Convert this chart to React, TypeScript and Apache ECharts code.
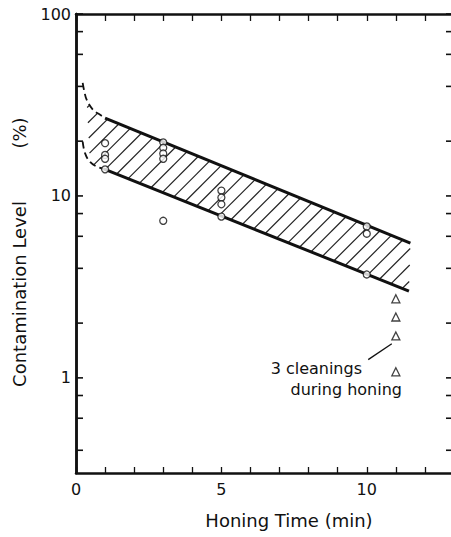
import React, { useEffect, useRef } from "react";
import * as echarts from "echarts";

// ---- data ----
const xTickLabels = [0, 5, 10];
const yTickLabels = [1, 10, 100];
const yTickValues = [0.4, 0.6, 0.8, 1, 2, 4, 6, 8, 10, 20, 40, 60, 80, 100];

const circleTimes = [1, 1, 1, 1, 3, 3, 3, 3, 3, 5, 5, 5, 5, 10, 10, 10];
const circleLevels = [19.5, 16.8, 16.0, 14.0, 19.7, 18.4, 17.1, 16.0, 7.3, 10.7, 9.8, 9.0, 7.7, 6.8, 6.2, 3.7];

const triangleTimes = [11, 11, 11, 11];
const triangleLevels = [2.72, 2.16, 1.7, 1.08];

const upperLineX = [1.0, 11.5];
const upperLineY = [26.8, 5.5];
const lowerLineX = [0.95, 11.45];
const lowerLineY = [14.1, 3.0];

const upperDashX = [0.23, 0.29, 0.37, 0.59, 0.83, 1.0];
const upperDashY = [41.8, 37.3, 33.7, 29.7, 27.9, 26.8];
const lowerDashX = [0.23, 0.31, 0.48, 0.71, 0.95];
const lowerDashY = [19.9, 17.2, 15.4, 14.5, 14.1];

const leaderX = [10.05, 10.86];
const leaderY = [1.26, 1.54];

const annotationLines = ["3 cleanings", "during honing"];

const zip = (xs: number[], ys: number[]) => xs.map((x, i) => [x, ys[i]]);

const HATCH_ANGLE = 45;
const HATCH_GAP = 16;
const FONT = "DejaVu Sans";
const INK = "#111";

export default function App() {
  const ref = useRef<HTMLDivElement>(null);

  useEffect(() => {
    if (!ref.current) return;
    const chart = echarts.init(ref.current, null, { renderer: "svg" });

    const upperDash = zip(upperDashX, upperDashY);
    const lowerDash = zip(lowerDashX, lowerDashY);
    const upperLine = zip(upperLineX, upperLineY);
    const lowerLine = zip(lowerLineX, lowerLineY);

    const hatchPolygon = [
      ...upperDash.filter((p) => p[0] >= 0.37),
      upperLine[upperLine.length - 1],
      lowerLine[lowerLine.length - 1],
      ...lowerDash.filter((p) => p[0] >= 0.48).reverse(),
    ];

    const hatchRender = (_params: any, api: any) => {
      const poly = hatchPolygon.map((p) => api.coord(p));
      const th = (HATCH_ANGLE * Math.PI) / 180;
      const dx = Math.cos(th), dy = -Math.sin(th);
      const nx = Math.sin(th), ny = Math.cos(th);
      const ks = poly.map((p: number[]) => nx * p[0] + ny * p[1]);
      const kmin = Math.min(...ks), kmax = Math.max(...ks);
      const step = HATCH_GAP * Math.sin(th);
      const children: any[] = [];
      for (let k = kmin + step * 0.5; k < kmax; k += step) {
        const hits: number[][] = [];
        for (let i = 0; i < poly.length; i++) {
          const a = poly[i], b = poly[(i + 1) % poly.length];
          const va = nx * a[0] + ny * a[1] - k;
          const vb = nx * b[0] + ny * b[1] - k;
          if (va < 0 !== vb < 0) {
            const t = va / (va - vb);
            const px = a[0] + t * (b[0] - a[0]);
            const py = a[1] + t * (b[1] - a[1]);
            hits.push([px, py, dx * px + dy * py]);
          }
        }
        hits.sort((p, q) => p[2] - q[2]);
        for (let j = 0; j + 1 < hits.length; j += 2) {
          children.push({
            type: "line",
            shape: { x1: hits[j][0], y1: hits[j][1], x2: hits[j + 1][0], y2: hits[j + 1][1] },
            style: { stroke: "#222", lineWidth: 1.2 },
          });
        }
      }
      return { type: "group", children };
    };

    const tickRender = (_params: any, api: any) => {
      const v = api.value(1);
      const pL = api.coord([0, v]);
      const pR = api.coord([13, v]);
      return {
        type: "group",
        children: [
          { type: "line", shape: { x1: pL[0], y1: pL[1], x2: pL[0] + 7, y2: pL[1] }, style: { stroke: INK, lineWidth: 1.6 } },
          { type: "line", shape: { x1: pR[0] - 8, y1: pR[1], x2: pR[0], y2: pR[1] }, style: { stroke: INK, lineWidth: 1.6 } },
        ],
      };
    };

    const isIn = (list: number[], v: number) => list.some((l) => Math.abs(l - v) < 1e-6 * Math.max(1, l));

    const axisLineStyle = { color: INK, width: 2.5 };

    chart.setOption({
      animation: false,
      backgroundColor: "#ffffff",
      grid: { left: 76, top: 14, width: 378, height: 459, outerBoundsMode: "none", containLabel: false },
      xAxis: [
        {
          type: "value", min: 0, max: 13, interval: 1, position: "bottom",
          axisLine: { lineStyle: axisLineStyle },
          axisTick: { inside: true, length: 6, lineStyle: { color: INK, width: 1.3 } },
          axisLabel: {
            formatter: (v: number) => (isIn(xTickLabels, v) ? String(v) : ""),
            fontSize: 16, fontFamily: FONT, color: INK, margin: 8,
          },
          splitLine: { show: false },
        },
        {
          type: "value", min: 0, max: 13, interval: 1, position: "top",
          axisLine: { lineStyle: axisLineStyle },
          axisTick: { inside: true, length: 7, lineStyle: { color: INK, width: 1.3 } },
          axisLabel: { show: false },
          splitLine: { show: false },
        },
      ],
      yAxis: [
        {
          type: "log", logBase: 10, min: 0.3, max: 100, position: "left",
          axisLine: { show: true, lineStyle: axisLineStyle },
          axisTick: { show: false },
          axisLabel: {
            formatter: (v: number) => (isIn(yTickLabels, v) ? String(Math.round(v)) : ""),
            fontSize: 16, fontFamily: FONT, color: INK, margin: 5,
          },
          splitLine: { show: false },
          minorTick: { show: false },
        },
        {
          type: "log", logBase: 10, min: 0.3, max: 100, position: "right",
          axisLine: { show: true, lineStyle: axisLineStyle },
          axisTick: { show: false },
          axisLabel: { show: false },
          splitLine: { show: false },
        },
      ],
      series: [
        {
          type: "custom", name: "hatch", renderItem: hatchRender, data: [[0, 1]],
          encode: { x: 0, y: 1 }, silent: true, z: 1,
        },
        {
          type: "custom", name: "yticks", renderItem: tickRender,
          data: yTickValues.map((v) => [0, v]), encode: { x: 0, y: 1 }, silent: true, z: 5,
        },
        {
          type: "line", name: "upper", data: upperLine, showSymbol: false,
          lineStyle: { color: INK, width: 3 }, z: 2,
        },
        {
          type: "line", name: "lower", data: lowerLine, showSymbol: false,
          lineStyle: { color: INK, width: 3 }, z: 2,
        },
        {
          type: "line", name: "upperDash", data: upperDash, showSymbol: false, smooth: 0.4,
          lineStyle: { color: INK, width: 1.8, type: [7, 4] }, z: 2,
        },
        {
          type: "line", name: "lowerDash", data: lowerDash, showSymbol: false, smooth: 0.4,
          lineStyle: { color: INK, width: 1.8, type: [7, 4] }, z: 2,
        },
        {
          type: "line", name: "leader", data: zip(leaderX, leaderY), showSymbol: false,
          lineStyle: { color: INK, width: 1.3 }, z: 2,
        },
        {
          type: "scatter", name: "circles", data: zip(circleTimes, circleLevels),
          symbol: "circle", symbolSize: 7,
          itemStyle: { color: "#fff", borderColor: INK, borderWidth: 1.3 }, z: 3,
        },
        {
          type: "scatter", name: "triangles", data: zip(triangleTimes, triangleLevels),
          symbol: "triangle", symbolSize: 8,
          itemStyle: { color: "#fff", borderColor: INK, borderWidth: 1.3 }, z: 3,
        },
      ],
      graphic: [
        {
          type: "text", x: 19, y: 294, rotation: Math.PI / 2,
          style: { text: "Contamination Level", font: `18px "${FONT}"`, fill: INK, textAlign: "center", textVerticalAlign: "middle" },
        },
        {
          type: "text", x: 19, y: 133, rotation: Math.PI / 2,
          style: { text: "(%)", font: `18px "${FONT}"`, fill: INK, textAlign: "center", textVerticalAlign: "middle" },
        },
        {
          type: "text", x: 289, y: 520,
          style: { text: "Honing Time (min)", font: `18px "${FONT}"`, fill: INK, textAlign: "center", textVerticalAlign: "middle" },
        },
        {
          type: "text", x: 362, y: 368,
          style: { text: annotationLines[0], font: `16px "${FONT}"`, fill: INK, textAlign: "right", textVerticalAlign: "middle" },
        },
        {
          type: "text", x: 402, y: 389,
          style: { text: annotationLines[1], font: `16px "${FONT}"`, fill: INK, textAlign: "right", textVerticalAlign: "middle" },
        },
      ],
    });

    return () => chart.dispose();
  }, []);

  return (
    <div
      ref={ref}
      style={{ position: "absolute", left: 0, top: 0, width: 451, height: 537 }}
    />
  );
}
